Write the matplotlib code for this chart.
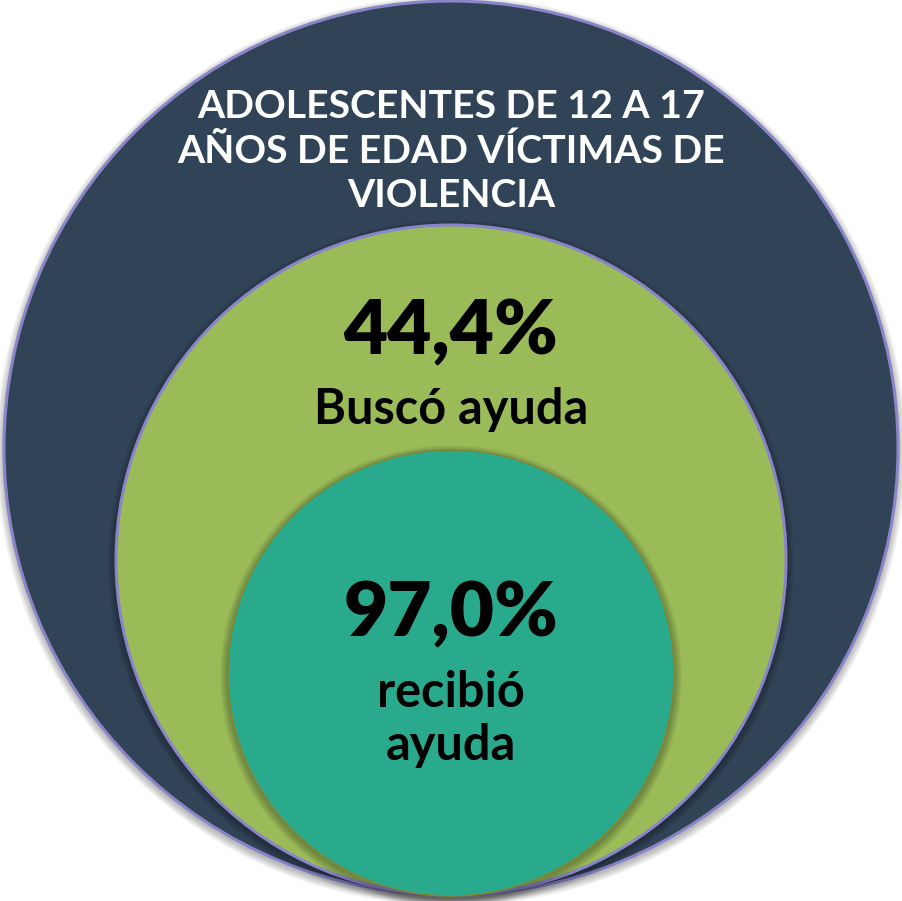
import matplotlib; matplotlib.use("Agg")
import matplotlib.pyplot as plt
from matplotlib.patches import Circle

# nested groups, outermost first
GROUPS = ["ADOLESCENTES DE 12 A 17\nAÑOS DE EDAD VÍCTIMAS DE\nVIOLENCIA", "Buscó ayuda", "recibió\nayuda"]
PCTS = [None, "44,4%", "97,0%"]
COLORS = ["#314356", "#9BBB59", "#2AAA8D"]
EDGES = ["#8A84C8", "#8A84C8", "#7A8A3A"]

W, H = 903, 901
fig = plt.figure(figsize=(W / 100, H / 100), dpi=100)
ax = fig.add_axes([0, 0, 1, 1])
ax.set_xlim(0, W); ax.set_ylim(H, 0); ax.set_aspect("equal"); ax.axis("off")

# circles tangent at the bottom
circ = [(451, 448, 447), (451, 560, 335), (451, 673, 223)]
for i, ((cx, cy, r), c, e) in enumerate(zip(circ, COLORS, EDGES)):
    # soft shadow
    for k in range(8):
        ax.add_patch(Circle((cx, cy + 3), r + 8 - k, color="black", alpha=0.035, lw=0, zorder=i * 3))
    ax.add_patch(Circle((cx, cy), r, facecolor=c, edgecolor=e, lw=2.2 if i < 2 else 1.2, zorder=i * 3 + 1))

ax.text(451, 151, GROUPS[0], ha="center", va="center", color="white", fontsize=28.3,
        fontweight="bold", family="Lato", linespacing=1.33, zorder=20)
ax.text(451, 332, PCTS[1], ha="center", va="center", color="black", fontsize=55,
        fontweight="heavy", family="Lato", zorder=20)
ax.text(451, 410, GROUPS[1], ha="center", va="center", color="black", fontsize=35,
        fontweight="bold", family="Lato", zorder=20)
ax.text(451, 614, PCTS[2], ha="center", va="center", color="black", fontsize=55,
        fontweight="heavy", family="Lato", zorder=20)
ax.text(451, 719, GROUPS[2], ha="center", va="center", color="black", fontsize=35,
        fontweight="bold", family="Lato", linespacing=1.2, zorder=20)

fig.savefig("out.png", dpi=100)
